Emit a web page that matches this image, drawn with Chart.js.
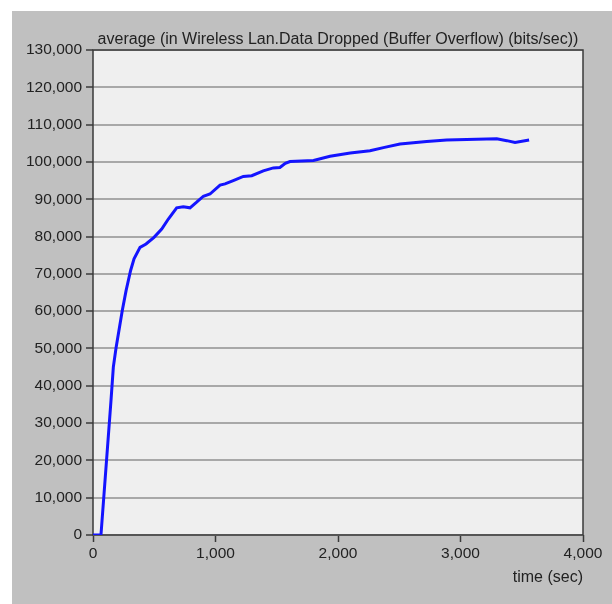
<!DOCTYPE html>
<html>
<head>
<meta charset="utf-8">
<script src="https://cdn.jsdelivr.net/npm/chart.js@4/dist/chart.umd.min.js"></script>
<style>
  html, body { margin: 0; padding: 0; background: #ffffff; }
  canvas { display: block; }
</style>
</head>
<body>
<canvas id="chart" width="612" height="604"></canvas>
<script>
// Time axis (seconds) and averaged dropped-data rate (bits/sec)
const timeSec = [0, 65, 147, 166, 188, 239, 270, 307, 335, 384,
  433, 498, 561, 615, 683, 737, 792, 846, 901, 955,
  1037, 1078, 1145, 1227, 1296, 1390, 1472, 1526, 1570, 1608,
  1800, 1935, 2100, 2261, 2380, 2506, 2724, 2887, 3050, 3296,
  3378, 3445, 3560];
const droppedBits = [0, 0, 36100, 45000, 50100, 60200, 65500, 70900, 74000, 77100,
  78000, 79800, 82000, 84700, 87700, 88000, 87700, 89200, 90800, 91400,
  93800, 94100, 95000, 96100, 96300, 97600, 98400, 98500, 99600, 100100,
  100400, 101500, 102400, 103000, 103900, 104800, 105500, 105900, 106000, 106200,
  105700, 105200, 105900];

const xTicks = [0, 1000, 2000, 3000, 4000];
const yTicks = [0, 10000, 20000, 30000, 40000, 50000, 60000, 70000, 80000, 90000,
  100000, 110000, 120000, 130000];
const chartTitle = 'average (in Wireless Lan.Data Dropped (Buffer Overflow) (bits/sec))';
const xAxisTitle = 'time (sec)';

const FONT = 'Liberation Sans, Arial, sans-serif';
const TEXT = '#222222';
const fmt = v => Number(v).toLocaleString('en-US');

const panel = {
  id: 'panel',
  beforeDraw(chart) {
    const { ctx, chartArea: a } = chart;
    ctx.save();
    ctx.fillStyle = '#ffffff';
    ctx.fillRect(0, 0, chart.width, chart.height);
    ctx.fillStyle = '#c0c0c0';
    ctx.fillRect(12, 11, chart.width - 12, chart.height - 11);
    ctx.fillStyle = '#efefef';
    ctx.fillRect(a.left, a.top, a.right - a.left, a.bottom - a.top);
    ctx.restore();
  },
  beforeDatasetsDraw(chart) {
    const { ctx, chartArea: a } = chart;
    ctx.save();
    ctx.strokeStyle = '#3a3a3a';
    ctx.lineWidth = 1.5;
    ctx.strokeRect(a.left, a.top, a.right - a.left, a.bottom - a.top);
    ctx.restore();
  }
};

new Chart(document.getElementById('chart'), {
  type: 'line',
  data: {
    datasets: [{
      data: timeSec.map((t, i) => ({ x: t, y: droppedBits[i] })),
      borderColor: '#1414ff',
      borderWidth: 3,
      pointRadius: 0,
      tension: 0,
      fill: false
    }]
  },
  options: {
    responsive: false,
    devicePixelRatio: 1,
    animation: false,
    layout: { padding: { left: 0, right: 29, top: 0, bottom: 0 } },
    plugins: {
      legend: { display: false },
      tooltip: { enabled: false },
      title: {
        display: true,
        text: chartTitle,
        fullSize: false,
        color: TEXT,
        font: { family: FONT, size: 16, weight: 'normal', lineHeight: 1.2 },
        padding: { top: 30, bottom: 0.8 }
      }
    },
    scales: {
      x: {
        type: 'linear',
        min: 0, max: 4000,
        afterFit(s) { s.height = 69; },
        afterBuildTicks(s) { s.ticks = xTicks.map(v => ({ value: v })); },
        ticks: { color: TEXT, font: { family: FONT, size: 15.5 }, padding: 2, maxRotation: 0, callback: fmt },
        grid: { drawOnChartArea: false, drawTicks: true, tickLength: 7, tickColor: '#3a3a3a', tickWidth: 1.5 },
        border: { display: false },
        title: {
          display: true, text: xAxisTitle, align: 'end', color: TEXT,
          font: { family: FONT, size: 16, lineHeight: 1.2 },
          padding: { top: 0, bottom: 17 }
        }
      },
      y: {
        type: 'linear',
        min: 0, max: 130000,
        afterFit(s) { s.width = 93; },
        afterBuildTicks(s) { s.ticks = yTicks.map(v => ({ value: v })); },
        ticks: { color: TEXT, font: { family: FONT, size: 15.5 }, padding: 4, callback: fmt },
        grid: { color: '#a8a8a8', lineWidth: 2, drawTicks: true, tickLength: 7, tickColor: '#3a3a3a', tickWidth: 1.5 },
        border: { display: false }
      }
    }
  },
  plugins: [panel]
});
</script>
</body>
</html>
